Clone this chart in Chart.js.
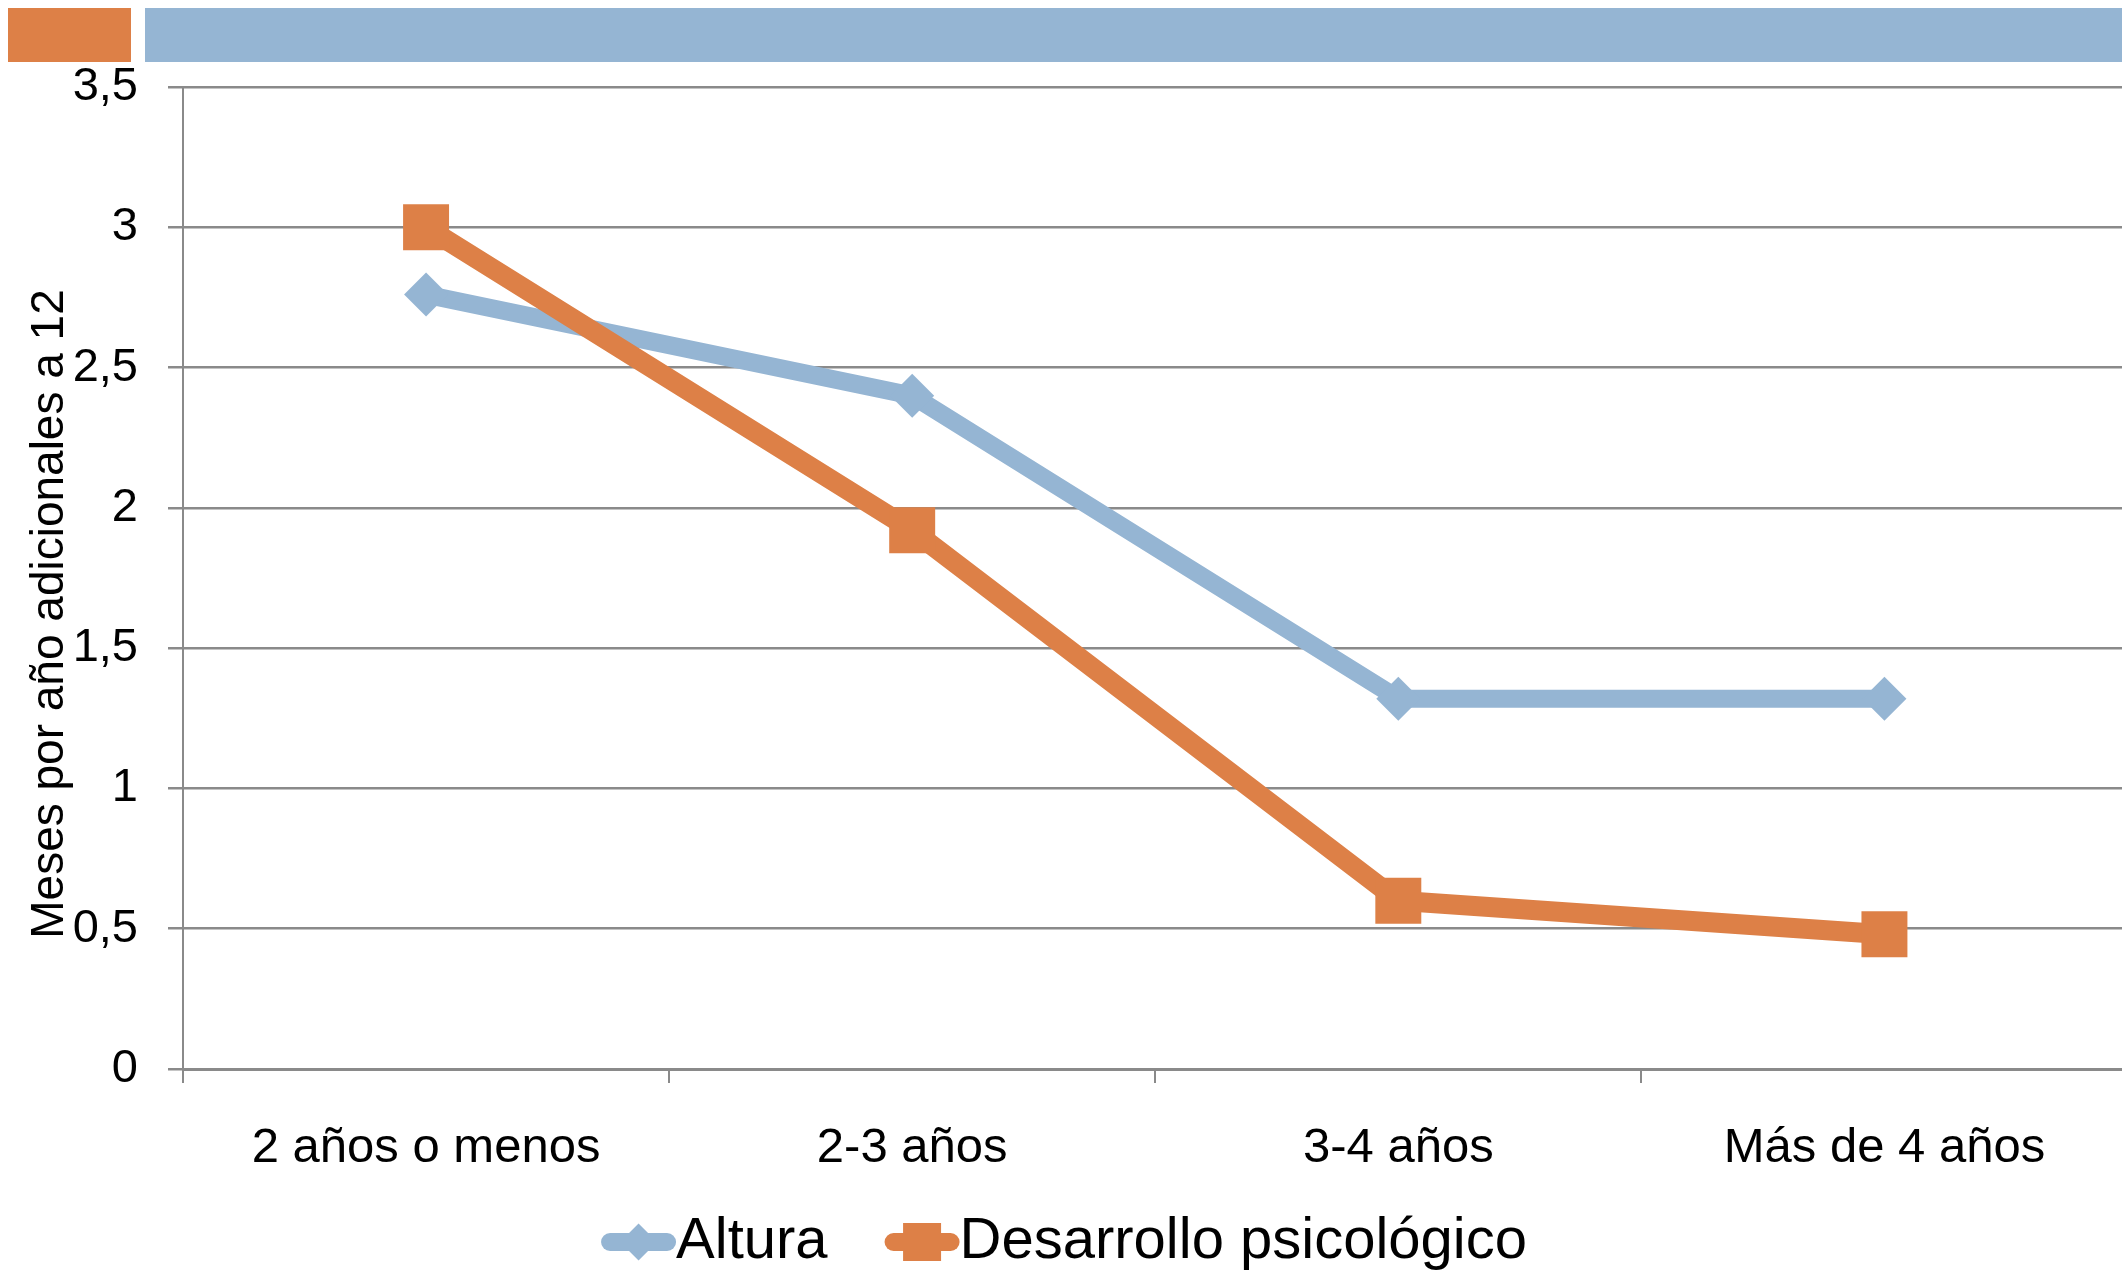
<!DOCTYPE html>
<html>
<head>
<meta charset="utf-8">
<title>Meses por año adicionales a 12</title>
<script src="https://cdn.jsdelivr.net/npm/chart.js@4/dist/chart.umd.min.js"></script>
<style>
  html, body { margin: 0; padding: 0; background: #fff; overflow: hidden; }
  #wrap { position: absolute; left: 0; top: 0; width: 2160px; height: 1271px; }
  .band { position: absolute; top: 8px; height: 54px; }
  #bandOrange { left: 8px; width: 123px; background: #DD8047; }
  #bandBlue { left: 145px; right: 0; background: #95B5D3; }
</style>
</head>
<body>
<div id="wrap"><canvas id="chart" width="2160" height="1271"></canvas></div>
<div class="band" id="bandOrange"></div>
<div class="band" id="bandBlue"></div>
<script>
const categories = ["2 años o menos", "2-3 años", "3-4 años", "Más de 4 años"];
const altura = [2.76, 2.40, 1.32, 1.32];
const desarrollo = [3.00, 1.92, 0.60, 0.48];
const seriesNames = ["Altura", "Desarrollo psicológico"];
const yTickLabels = ["0", "0,5", "1", "1,5", "2", "2,5", "3", "3,5"];
const yAxisTitle = "Meses por año adicionales a 12";

const BLUE = "#95B5D3";
const ORANGE = "#DD8047";
const GRID = "#8a8a8a";
const FONT = '"Liberation Sans", Arial, sans-serif';

// y axis title, placed a bit below the middle like the original
const yTitlePlugin = {
  id: "yTitle",
  afterDraw(chart) {
    const { ctx, chartArea } = chart;
    ctx.save();
    ctx.translate(50, (chartArea.top + chartArea.bottom) / 2 + 36);
    ctx.rotate(-Math.PI / 2);
    ctx.font = "46px " + FONT;
    ctx.fillStyle = "#000";
    ctx.textAlign = "center";
    ctx.textBaseline = "middle";
    ctx.fillText(yAxisTitle, 0, 0);
    ctx.restore();
  }
};

// legend with a short line and the marker on it, centred on the page
const lineLegendPlugin = {
  id: "lineLegend",
  afterDraw(chart) {
    const ctx = chart.ctx;
    const centerX = 1064;
    const y = 1242;
    const symW = 75;
    const gap = 57;
    ctx.save();
    ctx.font = "58px " + FONT;
    const items = chart.data.datasets.map(ds => ({ ds, w: symW + ctx.measureText(ds.label).width }));
    const total = items.reduce((s, it) => s + it.w, 0) + gap * (items.length - 1);
    let x = centerX - total / 2;
    items.forEach(({ ds, w }) => {
      ctx.strokeStyle = ds.borderColor;
      ctx.lineWidth = 18;
      ctx.lineCap = "round";
      ctx.beginPath();
      ctx.moveTo(x + 9, y);
      ctx.lineTo(x + symW - 9, y);
      ctx.stroke();
      const cx = x + symW / 2;
      ctx.fillStyle = ds.borderColor;
      ctx.beginPath();
      if (ds.pointStyle === "rect") {
        ctx.rect(cx - 19, y - 19, 38, 38);
      } else {
        ctx.moveTo(cx, y - 18.5);
        ctx.lineTo(cx + 18.5, y);
        ctx.lineTo(cx, y + 18.5);
        ctx.lineTo(cx - 18.5, y);
        ctx.closePath();
      }
      ctx.fill();
      ctx.fillStyle = "#000";
      ctx.textAlign = "left";
      ctx.textBaseline = "middle";
      ctx.fillText(ds.label, x + symW, y);
      x += w + gap;
    });
    ctx.restore();
  }
};

new Chart(document.getElementById("chart"), {
  type: "line",
  data: {
    labels: categories,
    datasets: [
      {
        label: seriesNames[0],
        data: altura,
        borderColor: BLUE,
        backgroundColor: BLUE,
        borderWidth: 18,
        borderJoinStyle: "round",
        pointStyle: "rectRot",
        pointRadius: 22,
        pointBorderWidth: 0,
        pointBackgroundColor: BLUE,
        tension: 0,
        order: 2
      },
      {
        label: seriesNames[1],
        data: desarrollo,
        borderColor: ORANGE,
        backgroundColor: ORANGE,
        borderWidth: 20,
        borderJoinStyle: "round",
        pointStyle: "rect",
        pointRadius: 32.5,
        pointBorderWidth: 0,
        pointBackgroundColor: ORANGE,
        tension: 0,
        order: 1
      }
    ]
  },
  options: {
    responsive: false,
    animation: false,
    devicePixelRatio: 1,
    layout: { padding: { top: 87, right: 0, left: 0, bottom: 0 } },
    plugins: {
      legend: { display: false },
      tooltip: { enabled: false }
    },
    scales: {
      x: {
        offset: true,
        afterFit: scale => {
          scale.height = 202;
          scale.paddingLeft = 0;
          scale.paddingRight = 0;
        },
        grid: {
          offset: true,
          drawOnChartArea: false,
          drawTicks: true,
          tickLength: 14,
          color: GRID,
          lineWidth: 2
        },
        border: { display: true, color: GRID, width: 3 },
        ticks: {
          color: "#000",
          padding: 36,
          maxRotation: 0,
          font: { family: FONT, size: 49 }
        }
      },
      y: {
        min: 0,
        max: 3.5,
        afterFit: scale => { scale.width = 183; },
        ticks: {
          stepSize: 0.5,
          color: "#000",
          padding: 30,
          font: { family: FONT, size: 47 },
          callback: (value, index) => yTickLabels[index]
        },
        grid: {
          color: GRID,
          lineWidth: 2.5,
          tickLength: 15
        },
        border: { display: true, color: GRID, width: 2 }
      }
    }
  },
  plugins: [yTitlePlugin, lineLegendPlugin]
});
</script>
</body>
</html>
